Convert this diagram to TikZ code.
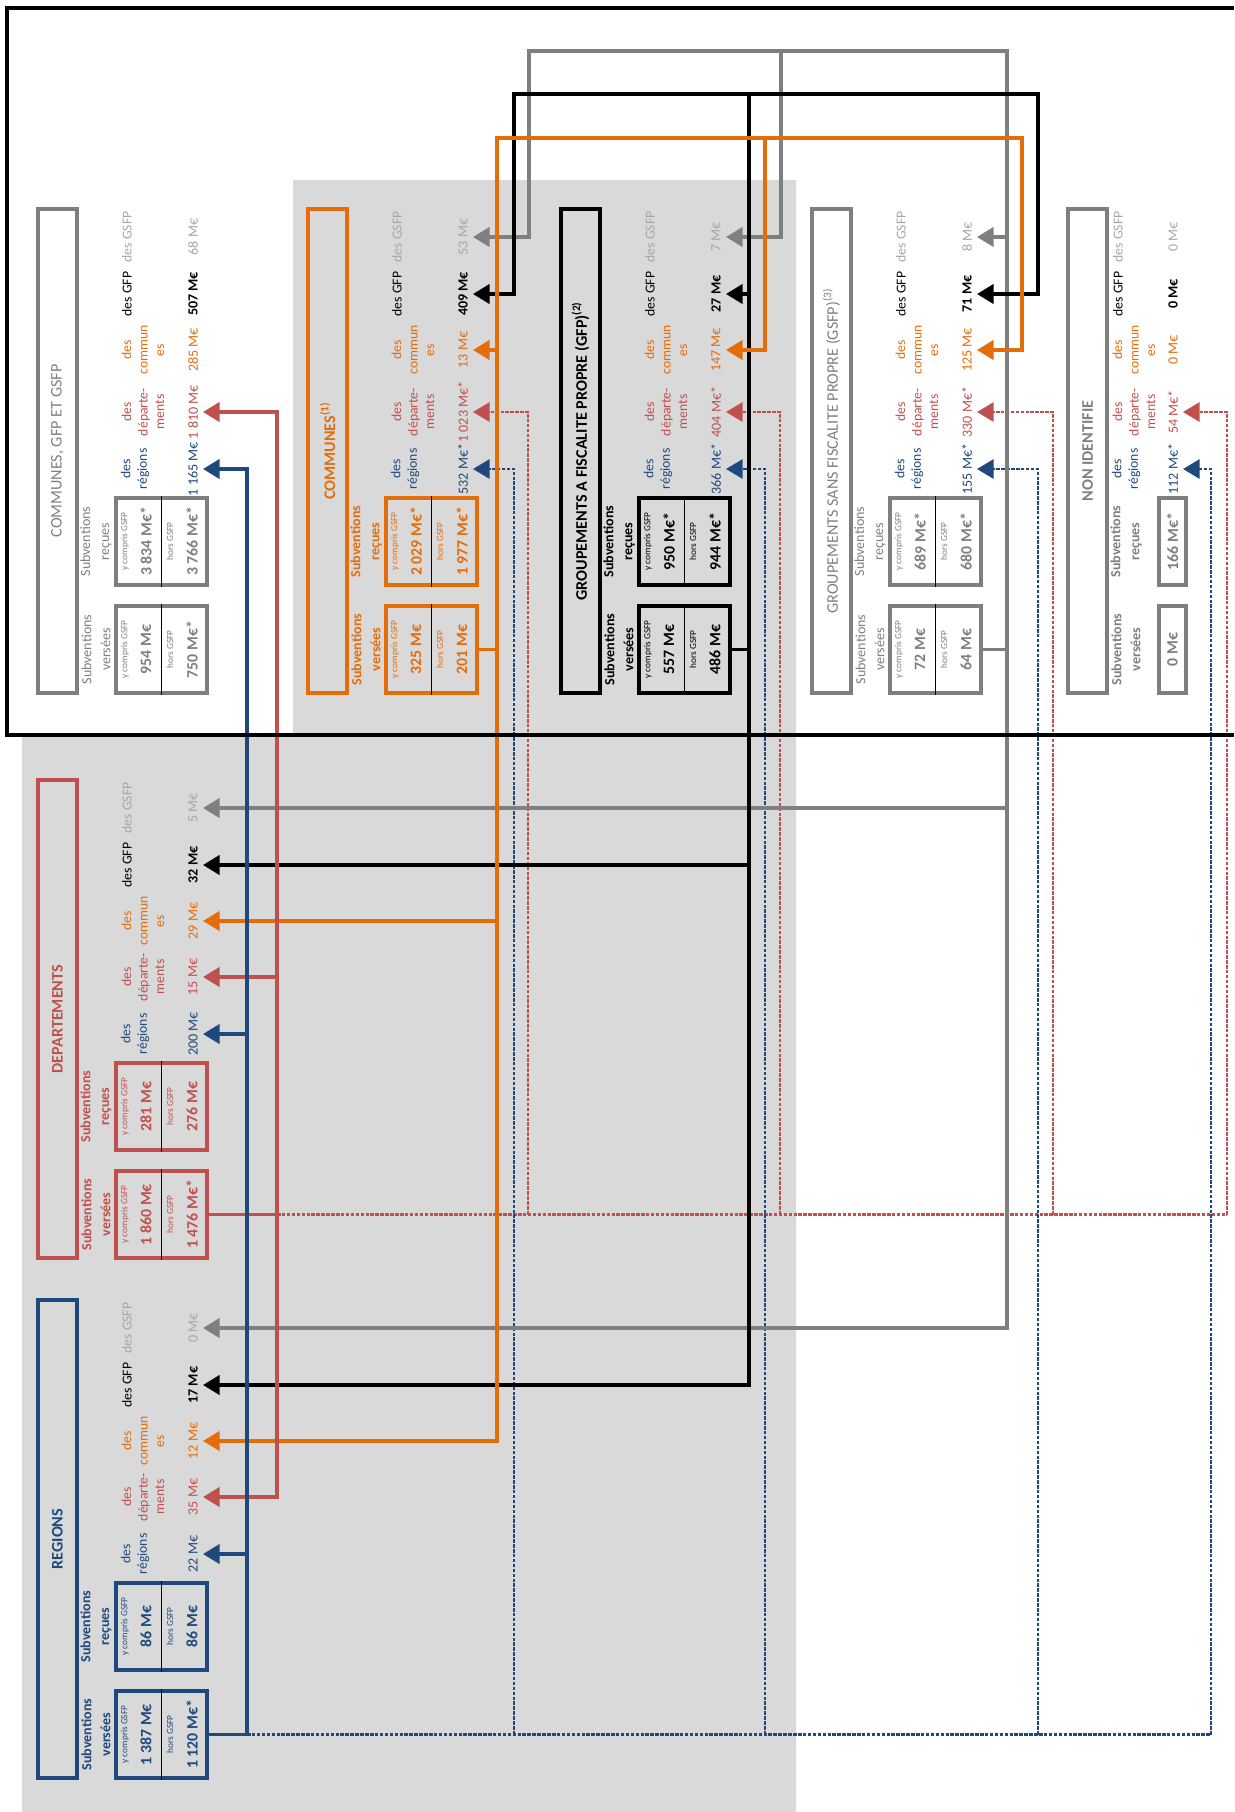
\documentclass[tikz,border=0pt]{standalone}
\usepackage{fontspec}
\setmainfont{Carlito}
\usetikzlibrary{arrows.meta}

\definecolor{regblue}{HTML}{1F497D}
\definecolor{depred}{HTML}{C0504D}
\definecolor{comorange}{HTML}{E46C0A}
\definecolor{gsfpgray}{HTML}{7F7F7F}
\definecolor{gsfplight}{HTML}{A6A6A6}
\definecolor{bggray}{HTML}{D9D9D9}

\newcommand{\pxl}{0.02cm}
\newcommand{\labx}{89}
\newcommand{\valx}{155}
\newcommand{\tipx}{165}

% title box and the two "Subventions" labels of one panel
\newcommand{\panel}[7]{%
  \node[titlebox, draw=#5, text=#5, font=\fontsize{9.2}{11}\selectfont#6,
        minimum width={(478+#4)*\pxl}, minimum height=39*\pxl]
        (#1) at ({#2+19.5},{#3+239+#4/2}) {#7};
  \node[sublab, text=#5, font=\fontsize{8}{10.8}\selectfont#6]
        (#1-lr) at ({#2+58},{#3+326.5+#4}) {Subventions\\reçues};
  \node[sublab, text=#5, font=\fontsize{8}{10.8}\selectfont#6]
        (#1-lv) at ({#2+58},{#3+434.5+#4}) {Subventions\\versées};
}
% box with "y compris GSFP" / "hors GSFP"
\newcommand{\pairbox}[6]{%
  \node[valbox, draw=#4, minimum width=91*\pxl, minimum height=87*\pxl] (#1) at ({#2+123.5},{#3}) {};
  \draw[line width=0.6pt] (#1.north) -- (#1.south);
  \node[tinylab, text=#4] (#1-a) at ({#2+87},{#3}) {y compris GSFP};
  \node[boxval, text=#4] (#1-b) at ({#2+108},{#3}) {#5};
  \node[tinylab, text=#4] (#1-c) at ({#2+132},{#3}) {hors GSFP};
  \node[boxval, text=#4] (#1-d) at ({#2+154},{#3}) {#6};
}
\newcommand{\onebox}[5]{%
  \node[valbox, draw=#4, minimum width=27*\pxl, minimum height=87*\pxl] (#1) at ({#2+104.5},{#3}) {};
  \node[boxval, text=#4] (#1-b) at ({#2+104.5},{#3}) {#5};
}
% the five rows: label, amount, arrow end
\newcommand{\rowset}[9]{%
  \node[rowlab, text=regblue] (#1-lreg) at ({#2+\labx+8},{#3+254+#4}) {des\\régions};
  \node[rowlab, text=depred] (#1-ldep) at ({#2+\labx+16},{#3+197+#4}) {des\\départe-\\ments};
  \node[rowlab, text=comorange] (#1-lcom) at ({#2+\labx+16},{#3+141}) {des\\commun\\es};
  \node[rowlab, text=black] (#1-lgfp) at ({#2+\labx},{#3+85}) {des GFP};
  \node[rowlab, text=gsfplight] (#1-lgsfp) at ({#2+\labx},{#3+28}) {des GSFP};
  \node[rowval, text=regblue] (#1-nreg) at ({#2+\valx},{#3+254+#4}) {#5};
  \node[rowval, text=depred] (#1-ndep) at ({#2+\valx},{#3+197+#4}) {#6};
  \node[rowval, text=comorange] (#1-ncom) at ({#2+\valx},{#3+141}) {#7};
  \node[rowval, text=black, font=\fontsize{8}{9}\selectfont\bfseries] (#1-ngfp) at ({#2+\valx},{#3+85}) {#8};
  \node[rowval, text=gsfplight] (#1-ngsfp) at ({#2+\valx},{#3+28}) {#9};
  \coordinate (#1-reg) at ({#2+\tipx},{#3+254+#4});
  \coordinate (#1-dep) at ({#2+\tipx},{#3+197+#4});
  \coordinate (#1-com) at ({#2+\tipx},{#3+141});
  \coordinate (#1-gfp) at ({#2+\tipx},{#3+85});
  \coordinate (#1-gsfp) at ({#2+\tipx},{#3+28});
}

\begin{document}
\begin{tikzpicture}[
    x=0.02cm, y=-0.02cm,
    titlebox/.style={rotate=90, line width=1.9pt, inner sep=0pt, align=center},
    sublab/.style={rotate=90, align=center, inner sep=0pt},
    valbox/.style={line width=1.9pt, inner sep=0pt},
    tinylab/.style={rotate=90, inner sep=0pt, font=\fontsize{5.3}{6}\selectfont},
    boxval/.style={rotate=90, inner sep=0pt, font=\fontsize{9}{10}\selectfont\bfseries},
    rowlab/.style={rotate=90, align=center, inner sep=0pt, font=\fontsize{7.8}{9.4}\selectfont},
    rowval/.style={rotate=90, inner sep=0pt, font=\fontsize{8}{9}\selectfont},
    link/.style={line width=2pt},
    flow/.style={link, -{Triangle[length=9.5pt, width=11pt]}},
    dlink/.style={line width=1.3pt, dash pattern=on 2pt off 0.8pt},
    dflow/.style={dlink, -{Triangle[length=9.5pt, width=11pt]}},
]
\useasboundingbox (0,0) rectangle (1234,1812);
\fill[bggray] (293,180) -- (796,180) -- (796,1812) -- (22,1812) -- (22,735) -- (293,735) -- cycle;

% left column
\panel{cgg}{38}{209}{6}{gsfpgray}{\mdseries}{COMMUNES, GFP ET GSFP}
\pairbox{cgg-r}{38}{541.5}{gsfpgray}{3 834 M€*}{3 766 M€*}
\pairbox{cgg-v}{38}{649.5}{gsfpgray}{954 M€}{750 M€*}
\rowset{cgg}{38}{209}{6}{1 165 M€}{1 810 M€}{285 M€}{507 M€}{68 M€}

\panel{dep}{38}{780}{0}{depred}{\bfseries}{DEPARTEMENTS}
\pairbox{dep-r}{38}{1106.5}{depred}{281 M€}{276 M€}
\pairbox{dep-v}{38}{1214.5}{depred}{1 860 M€}{1 476 M€*}
\rowset{dep}{38}{780}{0}{200 M€}{15 M€}{29 M€}{32 M€}{5 M€}

\panel{reg}{38}{1300}{0}{regblue}{\bfseries}{REGIONS}
\pairbox{reg-r}{38}{1626.5}{regblue}{86 M€}{86 M€}
\pairbox{reg-v}{38}{1734.5}{regblue}{1 387 M€}{1 120 M€*}
\rowset{reg}{38}{1300}{0}{22 M€}{35 M€}{12 M€}{17 M€}{0 M€}

% top row
\panel{com}{308}{209}{6}{comorange}{\bfseries}{COMMUNES\textsuperscript{(1)}}
\pairbox{com-r}{308}{541.5}{comorange}{2 029 M€*}{1 977 M€*}
\pairbox{com-v}{308}{649.5}{comorange}{325 M€}{201 M€}
\rowset{com}{308}{209}{6}{532 M€*}{1 023 M€*}{13 M€}{409 M€}{53 M€}

\panel{gfp}{561}{209}{6}{black}{\bfseries}{GROUPEMENTS A FISCALITE PROPRE (GFP)\textsuperscript{(2)}}
\pairbox{gfp-r}{561}{541.5}{black}{950 M€*}{944 M€*}
\pairbox{gfp-v}{561}{649.5}{black}{557 M€}{486 M€}
\rowset{gfp}{561}{209}{6}{366 M€*}{404 M€*}{147 M€}{27 M€}{7 M€}

\panel{gsfp}{812}{209}{6}{gsfpgray}{\mdseries}{GROUPEMENTS SANS FISCALITE PROPRE (GSFP)\textsuperscript{(3)}}
\pairbox{gsfp-r}{812}{541.5}{gsfpgray}{689 M€*}{680 M€*}
\pairbox{gsfp-v}{812}{649.5}{gsfpgray}{72 M€}{64 M€}
\rowset{gsfp}{812}{209}{6}{155 M€*}{330 M€*}{125 M€}{71 M€}{8 M€}

\panel{nid}{1068}{209}{6}{gsfpgray}{\bfseries}{NON IDENTIFIE}
\onebox{nid-r}{1068}{541.5}{gsfpgray}{166 M€*}
\onebox{nid-v}{1068}{649.5}{gsfpgray}{0 M€}
\renewcommand{\labx}{50}\renewcommand{\valx}{105}\renewcommand{\tipx}{115}
\rowset{nid}{1068}{209}{6}{112 M€*}{54 M€*}{0 M€}{0 M€}{0 M€}

% lines
\coordinate (busR) at (247,0);
\coordinate (busD) at (277,0);
\coordinate (busC) at (497,0);
\coordinate (busG) at (749,0);
\coordinate (busS) at (1007,0);
\coordinate (gtop) at (0,51);
\coordinate (ktop) at (0,94);
\coordinate (otop) at (0,138);
\coordinate (gC) at (529,0);
\coordinate (gG) at (781,0);
\coordinate (kC) at (514,0);
\coordinate (kS) at (1038,0);
\coordinate (oG) at (765,0);
\coordinate (oS) at (1022,0);
\coordinate (bdC) at (514,0);
\coordinate (bdG) at (765,0);
\coordinate (bdS) at (1038,0);
\coordinate (bdN) at (1211,0);
\coordinate (rdC) at (528,0);
\coordinate (rdG) at (780,0);
\coordinate (rdS) at (1053,0);
\coordinate (rdN) at (1227,0);

% dashed: regions and departements towards the top row
\draw[dlink, depred] (dep-v.east -| busD) -- (dep-v.east -| rdN);
\draw[dflow, depred] (dep-v.east -| rdC) |- (com-dep);
\draw[dflow, depred] (dep-v.east -| rdG) |- (gfp-dep);
\draw[dflow, depred] (dep-v.east -| rdS) |- (gsfp-dep);
\draw[dflow, depred] (dep-v.east -| rdN) |- (nid-dep);
\draw[dlink, regblue] (reg-v.east -| busR) -- (reg-v.east -| bdN);
\draw[dflow, regblue] (reg-v.east -| bdC) |- (com-reg);
\draw[dflow, regblue] (reg-v.east -| bdG) |- (gfp-reg);
\draw[dflow, regblue] (reg-v.east -| bdS) |- (gsfp-reg);
\draw[dflow, regblue] (reg-v.east -| bdN) |- (nid-reg);

% GSFP
\draw[flow, gsfpgray] (gsfp-v.east) -- (gsfp-v.east -| busS) -- (busS |- gtop) -- (gtop -| gC) |- (com-gsfp);
\draw[flow, gsfpgray] (gtop -| gG) |- (gfp-gsfp);
\draw[flow, gsfpgray] (gsfp-v.east -| busS) |- (reg-gsfp);
\draw[flow, gsfpgray] (busS |- gsfp-gsfp) -- (gsfp-gsfp);
\draw[flow, gsfpgray] (busS |- dep-gsfp) -- (dep-gsfp);

% GFP
\draw[flow, black] (gfp-v.east) -- (gfp-v.east -| busG) -- (busG |- ktop) -- (ktop -| kC) |- (com-gfp);
\draw[flow, black] (busG |- ktop) -- (ktop -| kS) |- (gsfp-gfp);
\draw[flow, black] (gfp-v.east -| busG) |- (reg-gfp);
\draw[flow, black] (busG |- gfp-gfp) -- (gfp-gfp);
\draw[flow, black] (busG |- dep-gfp) -- (dep-gfp);

% communes
\draw[flow, comorange] (com-v.east) -- (com-v.east -| busC) -- (busC |- otop) -- (otop -| oS) |- (gsfp-com);
\draw[flow, comorange] (otop -| oG) |- (gfp-com);
\draw[flow, comorange] (com-v.east -| busC) |- (reg-com);
\draw[flow, comorange] (busC |- com-com) -- (com-com);
\draw[flow, comorange] (busC |- dep-com) -- (dep-com);

% departements
\draw[flow, depred] (dep-v.east) -- (dep-v.east -| busD) |- (cgg-dep);
\draw[flow, depred] (dep-v.east -| busD) |- (reg-dep);
\draw[flow, depred] (busD |- dep-dep) -- (dep-dep);

% regions
\draw[flow, regblue] (reg-v.east) -- (reg-v.east -| busR) |- (cgg-reg);
\draw[flow, regblue] (busR |- reg-reg) -- (reg-reg);
\draw[flow, regblue] (busR |- dep-reg) -- (dep-reg);

% frame round communes, GFP and GSFP
\draw[line width=1.8pt] (1234,8) -- (7,8) -- (7,735) -- (1234,735);
\end{tikzpicture}
\end{document}
